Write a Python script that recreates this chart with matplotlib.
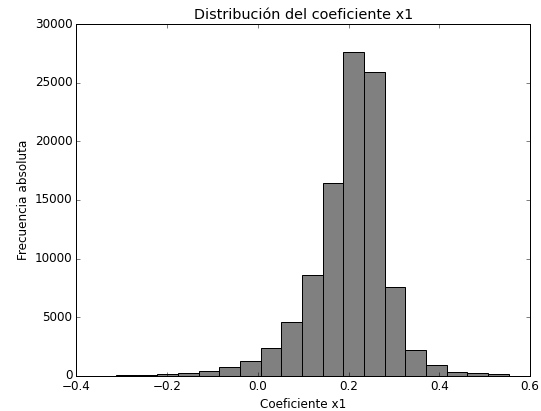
import numpy as np
import matplotlib
matplotlib.use('Agg')
import matplotlib.pyplot as plt

# --- Datos leidos del histograma ---
# 19 clases iguales entre el minimo y el maximo del coeficiente
bin_start = -0.3125
bin_end = 0.553
n_bins = 19
counts = [50, 80, 140, 210, 400, 720, 1250, 2340, 4560, 8600,
          16420, 27660, 25900, 7550, 2200, 910, 340, 220, 120]

edges = np.linspace(bin_start, bin_end, n_bins + 1)
centers = (edges[:-1] + edges[1:]) / 2

plt.style.use('classic')

DPI = 72
fig = plt.figure(figsize=(541 / DPI, 411 / DPI), dpi=DPI)
ax = fig.add_axes([0.1414, 0.0859, 0.9797 - 0.1414, 0.9409 - 0.0859])

ax.hist(centers, bins=edges, weights=counts, color='gray', edgecolor='black', linewidth=1)

ax.set_xlim(-0.4, 0.6)
ax.set_ylim(0, 30000)
ax.set_title("Distribución del coeficiente x1", fontsize=14.4)
ax.set_xlabel("Coeficiente x1", fontsize=12)
ax.set_ylabel("Frecuencia absoluta", fontsize=12)

fig.savefig('out.png', dpi=DPI, facecolor='white')
